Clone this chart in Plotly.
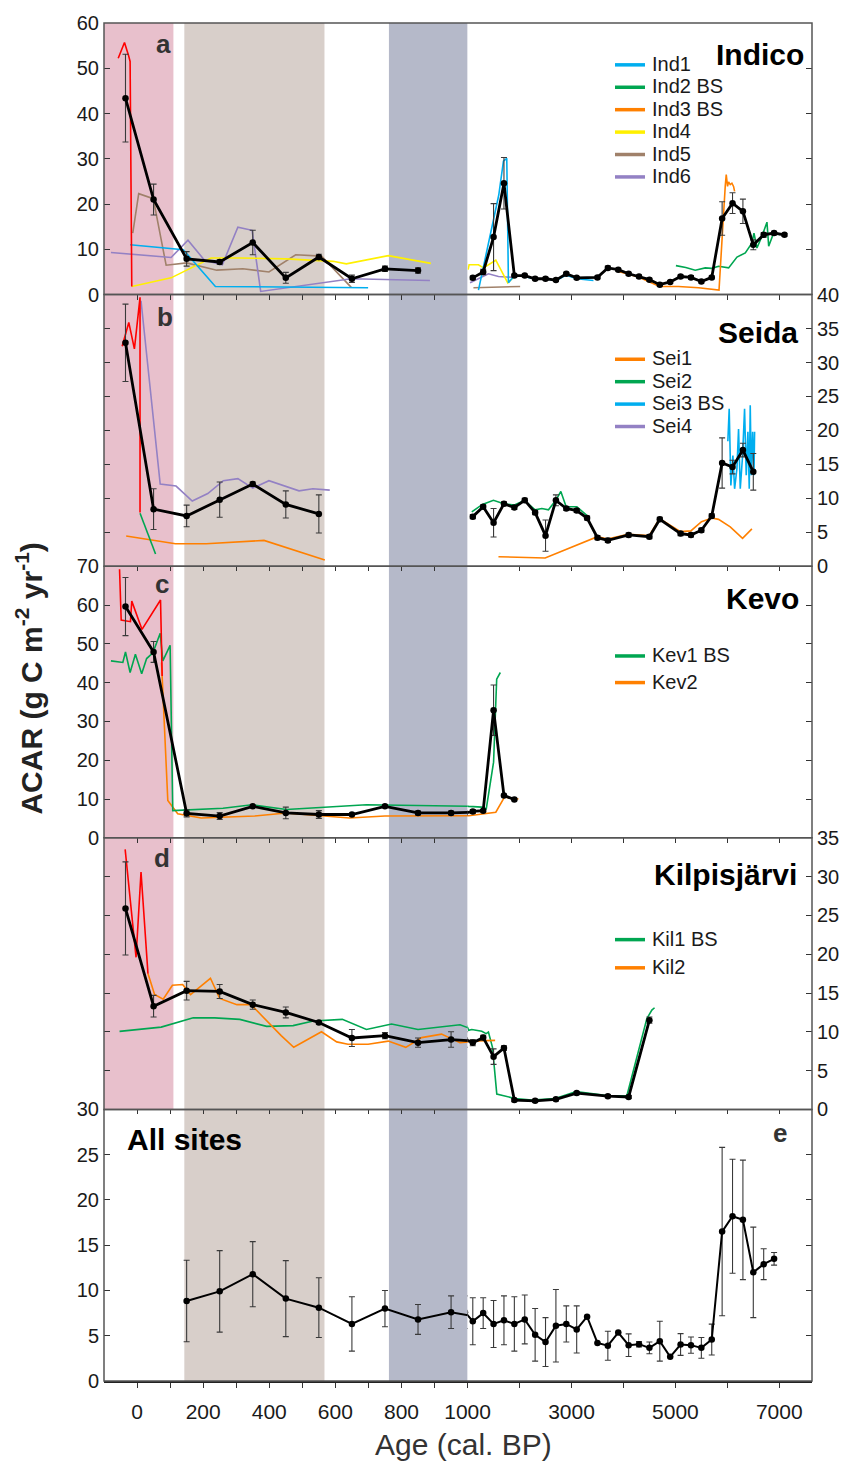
import plotly.graph_objects as go

# ---------------- data (ages in cal. BP, ACAR in g C m-2 yr-1) ----------------
# Panel a - Indico
a_mean_age_1 = [-35, 50, 150, 250, 350, 450, 550, 650, 750, 850]
a_mean_1 = [43.4, 21.0, 7.9, 7.2, 11.5, 3.7, 8.3, 3.5, 5.7, 5.3]
a_err_1 = [9.7, 3.4, 1.6, 0.5, 2.7, 1.2, 0.6, 0.8, 0.6, 0.6]
a_mean_age_2 = [1100, 1300, 1500, 1700, 1900, 2100, 2300, 2500, 2700, 2900, 3100, 3500, 3700, 3900, 4100,
                4300, 4500, 4700, 4900, 5100, 5300, 5500, 5700, 5900, 6100, 6300, 6500, 6700, 6900, 7100]
a_mean_2 = [3.7, 5.0, 12.7, 24.6, 4.2, 4.2, 3.5, 3.5, 3.2, 4.6, 3.7, 3.8, 5.9, 5.5, 4.6,
            4.0, 3.3, 2.2, 2.8, 4.0, 3.8, 2.9, 3.8, 16.8, 20.2, 18.4, 11.0, 13.2, 13.6, 13.2]
a_err_2 = [0.4, 0.6, 7.4, 5.7, 0.3, 0.3, 0.3, 0.3, 0.3, 0.3, 0.3, 0.3, 0.4, 0.3, 0.3,
           0.3, 0.3, 0.3, 0.3, 0.3, 0.4, 0.3, 0.3, 3.7, 2.3, 2.7, 1.1, 0.5, 0.4, 0.3]
a_red_age = [-57, -38, -26, -21, -16]
a_red = [52.2, 55.7, 52.9, 51.5, 1.8]
ind1_age = [-21, 140, 237, 699, None, 1209, 1600, 1690, 1754, 1786, 1902, 2100, 2300, 2500, 2700, 2900, 3100, 3423]
ind1 = [11.0, 9.9, 1.8, 1.5, None, 1.0, 22.0, 29.5, 30.1, 2.6, 4.2, 4.0, 3.4, 3.5, 3.1, 4.3, 3.5, 3.1]
ind2_age = [5010, 5200, 5382, 5575, 5700, 5832, 6025, 6186, 6346, 6475, 6513, 6570, 6667, 6763, 6796, 6892, 7021]
ind2 = [6.4, 6.0, 5.4, 5.9, 5.8, 6.25, 5.9, 8.3, 9.2, 11.4, 13.6, 10.3, 12.9, 16.0, 10.7, 13.6, 13.2]
ind3_age = [3905, 4290, 4695, 5060, 5446, 5840, 5960, 5979, 6004, 6024, 6056, 6088, 6120, 6140]
ind3 = [5.1, 3.9, 1.8, 1.8, 1.5, 1.0, 24.0, 26.5, 23.9, 24.9, 24.3, 24.6, 23.9, 22.8]
ind4_age = [-16, 103, 224, 310, 451, 593, 633, 760, 889, None, 1010, 1029, 1209, 1305, 1543, 1773, 1915]
ind4 = [1.8, 3.7, 8.1, 8.1, 7.9, 7.35, 6.8, 8.6, 6.9, None, 5.5, 6.6, 6.6, 5.9, 7.6, 2.6, 4.2]
ind5_age = [-13, 5, 49, 88, 150, 241, 320, 399, 480, 558, 648, None, 1112, 2011]
ind5 = [13.6, 22.3, 21.2, 6.5, 7.0, 5.4, 5.7, 5.0, 8.8, 8.5, 1.6, None, 1.5, 1.8]
ind6_age = [-79, 103, 154, 204, 258, 305, 348, 374, 648, 886, None, 1048, 1401, 1594, 1883]
ind6 = [9.3, 8.2, 12.0, 7.6, 6.6, 14.9, 14.2, 0.7, 3.5, 3.1, None, 2.6, 4.6, 4.0, 3.8]

# Panel b - Seida
b_mean_age_1 = [-35, 50, 150, 250, 350, 450, 550]
b_mean_1 = [32.9, 8.4, 7.4, 9.8, 12.1, 9.1, 7.7]
b_err_1 = [5.7, 3.0, 1.6, 2.6, 0.3, 2.0, 2.8]
b_mean_age_2 = [1100, 1300, 1500, 1700, 1900, 2100, 2300, 2500, 2700, 2900, 3100, 3300, 3500, 3700,
                4100, 4500, 4700, 5100, 5300, 5500, 5700, 5900, 6100, 6300, 6500]
b_mean_2 = [7.3, 8.75, 6.4, 9.2, 8.65, 9.7, 7.9, 4.5, 9.7, 8.5, 8.2, 7.1, 4.2, 3.8,
            4.6, 4.35, 6.9, 4.8, 4.6, 5.3, 7.4, 15.2, 14.6, 17.1, 13.9]
b_err_2 = [0.3, 0.3, 2.1, 0.3, 0.3, 0.3, 0.3, 2.3, 0.8, 0.3, 0.3, 0.3, 0.3, 0.3,
           0.3, 0.3, 0.3, 0.3, 0.3, 0.3, 0.3, 3.7, 1.0, 1.0, 2.7]
b_red_age = [-45, -25, -8, 9, 9]
b_red = [32.4, 35.9, 32.0, 39.6, 7.9]
sei1_age = [-33, 116, 209, 384, 568, None, 1594, 2493, 3500, 3693, 4085, 4496, 4695, 5099, 5298, 5503,
            5702, 5831, 6056, 6293, 6473]
sei1 = [4.45, 3.3, 3.3, 3.8, 0.9, None, 1.4, 1.2, 4.35, 4.0, 4.7, 4.5, 7.0, 5.1, 5.2, 6.55,
        7.1, 6.9, 5.8, 4.1, 5.5]
sei2_age = [9, 56, None, 1080, 1286, 1497, 1697, 1902, 2095, 2300, 2429, 2557, 2698, 2795, 2897, 3103, 3295]
sei2 = [7.8, 1.8, None, 8.0, 9.1, 9.7, 9.2, 9.0, 9.7, 8.3, 8.5, 8.3, 9.7, 11.0, 8.75, 8.75, 7.5]
sei3_age = [6010, 6036, 6068, 6107, 6140, 6185, 6216, 6249, 6294, 6332, 6364, 6396, 6422, 6441, 6461,
            6487, 6513, 6525]
sei3 = [18.4, 23.2, 11.9, 16.3, 11.4, 14.4, 20.2, 11.4, 16.3, 23.2, 13.4, 19.8, 11.4, 23.7, 13.4,
        19.8, 13.4, 19.8]
sei4_age = [12, 70, 118, 167, 214, 261, 305, 350, 399, 490, 532, 583]
sei4 = [39.1, 12.1, 11.8, 9.6, 10.7, 12.6, 12.9, 11.5, 12.6, 11.1, 11.4, 11.2]

# Panel c - Kevo
c_mean_age = [-35, 50, 150, 250, 350, 450, 550, 650, 750, 850, 950, 1100, 1300, 1500, 1700, 1900]
c_mean = [59.6, 47.9, 6.3, 5.6, 8.1, 6.4, 6.0, 6.0, 8.1, 6.4, 6.4, 6.8, 7.0, 32.9, 10.9, 9.85]
c_err = [7.5, 2.7, 0.9, 0.9, 0.3, 1.5, 1.0, 0.3, 0.3, 0.5, 0.5, 0.5, 0.3, 6.5, 0.3, 0.3]
c_red_age = [-53, -48, -20, -16, 15, 37, 71, 76]
c_red = [69.2, 56.1, 55.7, 61.0, 53.7, 56.7, 61.3, 41.7]
kev1_age = [-79, -43, -35, -21, -5, 14, 29, 48, 70, 78, 100, 108, 260, 348, 452, 694, 1022,
            1273, 1360, 1500, 1560, 1630]
kev1 = [45.6, 45.2, 47.9, 42.6, 47.3, 42.3, 46.2, 47.7, 52.7, 45.6, 49.6, 7.0, 7.6, 8.5, 7.3, 8.5, 8.1,
        7.9, 7.5, 19.5, 40.9, 42.6]
kev2_age = [74, 93, 123, 194, 356, 451, 643, 750, 1022, 1543, 1710, 1979]
kev2 = [45.2, 9.6, 6.2, 5.1, 5.6, 6.4, 5.1, 5.6, 5.7, 6.6, 10.5, 10.0]

# Panel d - Kilpisjärvi
d_mean_age = [-35, 50, 150, 250, 350, 450, 550, 650, 750, 850, 950, 1100, 1300, 1500, 1700, 1900,
              2300, 2700, 3100, 3700, 4100, 4500]
d_mean = [25.9, 13.3, 15.3, 15.2, 13.5, 12.5, 11.2, 9.2, 9.5, 8.6, 9.0, 8.6, 9.25, 6.8, 7.9, 1.2,
          1.1, 1.3, 2.1, 1.7, 1.6, 11.5]
d_err = [6.0, 1.4, 1.2, 0.9, 0.6, 0.7, 0.2, 1.1, 0.4, 0.6, 1.0, 0.4, 0.3, 1.0, 0.3, 0.2,
         0.2, 0.2, 0.2, 0.2, 0.2, 0.4]
d_red_age = [-36, -3, 12, 33]
d_red = [33.5, 19.6, 30.6, 17.5]
kil1_age = [-53, 73, 170, 235, 311, 392, 472, 533, 621, 694, 770, 850, 977, 1022, 1080, 1273, 1357,
            1401, 1479, 1562, 1915, 2236, 2686, 3090, 3681, 4066, 4451, 4547, 4599]
kil1 = [10.06, 10.6, 11.8, 11.8, 11.6, 10.7, 10.8, 11.4, 11.6, 10.3, 11.0, 10.3, 10.9, 10.2, 10.3, 10.06, 9.76,
        9.97, 8.0, 1.97, 1.4, 1.2, 1.4, 2.3, 1.8, 1.75, 11.7, 12.8, 13.1]
kil2_age = [33, 53, 79, 107, 138, 162, 222, 250, 302, 345, 436, 474, 558, 604, 638, 699, 760, 813, 861,
            921, 977, 1022, 1530]
kil2 = [17.5, 14.8, 14.2, 16.0, 16.1, 14.8, 16.9, 14.3, 13.5, 13.5, 9.5, 8.0, 10.0, 8.7, 8.4, 8.4, 8.8, 8.0,
        9.25, 9.7, 8.6, 8.8, 8.9]

# Panel e - All sites
e_age = [150, 250, 350, 450, 550, 650, 750, 850, 950, 1100, 1300, 1500, 1700, 1900, 2100, 2300, 2500,
         2700, 2900, 3100, 3300, 3500, 3700, 3900, 4100, 4300, 4500, 4700, 4900, 5100, 5300, 5500, 5700,
         5900, 6100, 6300, 6500, 6700, 6900]
e_mean = [8.83, 9.9, 11.8, 9.1, 8.1, 6.3, 8.0, 6.8, 7.6, 6.6, 7.5, 6.3, 6.7, 6.3, 6.8, 5.1, 4.3,
          6.1, 6.3, 5.7, 7.1, 4.2, 3.9, 5.35, 3.96, 4.07, 3.66, 4.4, 2.67, 4.03, 3.96, 3.66, 4.58,
          16.5, 18.2, 17.8, 12.0, 12.9, 13.5]
e_err = [4.5, 4.5, 3.6, 4.2, 3.3, 3.0, 2.0, 1.65, 1.8, 2.6, 1.7, 2.6, 2.7, 3.0, 2.7, 2.9, 2.7,
         4.0, 2.0, 2.6, 0.0, 0.0, 1.6, 0.0, 1.25, 0.3, 0.65, 2.2, 0.0, 1.2, 0.9, 1.15, 1.7,
         9.3, 6.3, 6.6, 5.0, 1.7, 0.7]

# axis / label definitions
site_names = ["Indico", "Seida", "Kevo", "Kilpisjärvi", "All sites"]
panel_letters = ["a", "b", "c", "d", "e"]
y_max = [60, 40, 70, 35, 30]
y_step = [10, 5, 10, 5, 5]
y_side = ["left", "right", "left", "right", "left"]
left_major = [0, 200, 400, 600, 800, 1000]
left_minor = [100, 300, 500, 700, 900]
right_major = [3000, 5000, 7000]
right_minor = [2000, 4000, 6000]
legend_a = ["Ind1", "Ind2 BS", "Ind3 BS", "Ind4", "Ind5", "Ind6"]
legend_b = ["Sei1", "Sei2", "Sei3 BS", "Sei4"]
legend_c = ["Kev1 BS", "Kev2"]
legend_d = ["Kil1 BS", "Kil2"]

# ---------------- styling ----------------
FONT = "Liberation Sans, Arial, sans-serif"
W, H = 852, 1462
ML, MR, MT, MB = 104, 40, 18, 81
PW, PH = W - ML - MR, H - MT - MB
BREAK_PX = 467.6
B = round((BREAK_PX - ML) / PW, 6)
LEFT_RANGE = [-100, 1000]
RIGHT_RANGE = [1000, 7630]

RED = "#ff0000"
CYAN = "#00aeef"
GREEN = "#00a651"
ORANGE = "#ff8000"
YELLOW = "#fff000"
BROWN = "#a0816a"
PURPLE = "#9381c4"
PINK = "#e8c0cc"
TAN = "#d8cfca"
GREYBLUE = "#b5b9c9"
FRAME = "#555555"


def px_x(px):
    return (px - ML) / PW


def px_y(py):
    return (MT + PH - py) / PH


def xname(k):
    return "x" if k == 1 else f"x{k}"


def yname(k):
    return "y" if k == 1 else f"y{k}"


def lname(prefix, k):
    return prefix if k == 1 else f"{prefix}{k}"


def panel_dom(p):
    top = round(1 - 0.2 * p, 6)
    bot = round(max(0.0, top - 0.2), 6)
    return [bot, top]


fig = go.Figure()


def add_series(panel, ages, vals, color, width, err=None, markers=False, msize=6.5):
    for side in (0, 1):
        xa = xname(2 * panel + 1 + side)
        ya = yname(panel + 1)
        kw = dict(x=ages, y=vals, xaxis=xa, yaxis=ya, showlegend=False, hoverinfo="skip",
                  mode="lines+markers" if markers else "lines",
                  line=dict(color=color, width=width), connectgaps=False)
        if markers:
            kw["marker"] = dict(color=color, size=msize)
        if err is not None:
            kw["error_y"] = dict(type="data", array=err, symmetric=True, color="#3a3a3a",
                                 thickness=1.1, width=3)
        fig.add_trace(go.Scatter(**kw))


# Panel a
add_series(0, ind5_age, ind5, BROWN, 1.6)
add_series(0, ind6_age, ind6, PURPLE, 1.6)
add_series(0, ind4_age, ind4, YELLOW, 1.6)
add_series(0, ind1_age, ind1, CYAN, 1.6)
add_series(0, ind2_age, ind2, GREEN, 1.6)
add_series(0, ind3_age, ind3, ORANGE, 1.6)
add_series(0, a_red_age, a_red, RED, 1.6)
add_series(0, a_mean_age_1, a_mean_1, "black", 2.8, a_err_1, True)
add_series(0, a_mean_age_2, a_mean_2, "black", 2.8, a_err_2, True)
# Panel b
add_series(1, sei1_age, sei1, ORANGE, 1.6)
add_series(1, sei4_age, sei4, PURPLE, 1.6)
add_series(1, sei2_age, sei2, GREEN, 1.6)
add_series(1, sei3_age, sei3, CYAN, 1.6)
add_series(1, b_red_age, b_red, RED, 1.6)
add_series(1, b_mean_age_1, b_mean_1, "black", 2.8, b_err_1, True)
add_series(1, b_mean_age_2, b_mean_2, "black", 2.8, b_err_2, True)
# Panel c
add_series(2, kev2_age, kev2, ORANGE, 1.6)
add_series(2, kev1_age, kev1, GREEN, 1.6)
add_series(2, c_red_age, c_red, RED, 1.6)
add_series(2, c_mean_age, c_mean, "black", 2.8, c_err, True)
# Panel d
add_series(3, kil1_age, kil1, GREEN, 1.6)
add_series(3, kil2_age, kil2, ORANGE, 1.6)
add_series(3, d_red_age, d_red, RED, 1.6)
add_series(3, d_mean_age, d_mean, "black", 2.8, d_err, True)
# Panel e
add_series(4, e_age, e_mean, "black", 2.0, e_err, True, 6.5)

# empty traces to instantiate mirror axes
for p in range(5):
    other_x = 2 * p + 2 if y_side[p] == "left" else 2 * p + 1
    fig.add_trace(go.Scatter(x=[None], y=[None], xaxis=xname(other_x), yaxis=yname(6 + p),
                             showlegend=False, hoverinfo="skip"))
fig.add_trace(go.Scatter(x=[None], y=[None], xaxis="x11", yaxis="y5", showlegend=False, hoverinfo="skip"))
fig.add_trace(go.Scatter(x=[None], y=[None], xaxis="x12", yaxis="y5", showlegend=False, hoverinfo="skip"))

layout = dict(
    width=W, height=H, margin=dict(l=ML, r=MR, t=MT, b=MB),
    paper_bgcolor="white", plot_bgcolor="rgba(0,0,0,0)",
    font=dict(family=FONT, color="#1a1a1a", size=20),
    showlegend=False,
)

tickfont_y = dict(family=FONT, size=20, color="#1a1a1a")
tickfont_x = dict(family=FONT, size=21, color="#1a1a1a")


def minor_spec(vals, direction):
    return dict(tickmode="array", tickvals=vals, ticks=direction, ticklen=5, tickwidth=1.2,
                tickcolor="#333", showgrid=False)


for p in range(5):
    dom = panel_dom(p)
    yk = p + 1
    L, R = 2 * p + 1, 2 * p + 2
    common_x = dict(showgrid=False, zeroline=False, showline=False, fixedrange=True,
                    ticklen=5, tickwidth=1.2, tickcolor="#333", anchor=yname(yk), tickmode="array")
    if p == 0:
        xl = dict(common_x, domain=[0, B], range=LEFT_RANGE, ticks="", showticklabels=False)
        xr = dict(common_x, domain=[B, 1], range=RIGHT_RANGE, ticks="", showticklabels=False)
    elif p < 4:
        xl = dict(common_x, domain=[0, B], range=LEFT_RANGE, side="top", ticks="inside",
                  tickvals=left_major, showticklabels=False, minor=minor_spec(left_minor, "inside"))
        xr = dict(common_x, domain=[B, 1], range=RIGHT_RANGE, side="top", ticks="inside",
                  tickvals=right_major, showticklabels=False, minor=minor_spec(right_minor, "inside"))
    else:
        xl = dict(common_x, domain=[0, B], range=LEFT_RANGE, side="bottom", ticks="outside",
                  tickvals=left_major, tickfont=tickfont_x, minor=minor_spec(left_minor, "outside"),
                  showline=True, linecolor="#222", linewidth=1.5, ticklabelstandoff=6)
        xr = dict(common_x, domain=[B, 1], range=RIGHT_RANGE, side="bottom", ticks="outside",
                  tickvals=right_major, tickfont=tickfont_x, minor=minor_spec(right_minor, "outside"),
                  showline=True, linecolor="#222", linewidth=1.5, ticklabelstandoff=6)
        layout["xaxis11"] = dict(common_x, domain=[0, B], range=LEFT_RANGE, side="top", ticks="inside",
                                 tickvals=left_major, showticklabels=False, overlaying="x9",
                                 minor=minor_spec(left_minor, "inside"))
        layout["xaxis12"] = dict(common_x, domain=[B, 1], range=RIGHT_RANGE, side="top", ticks="inside",
                                 tickvals=right_major, showticklabels=False, overlaying="x10",
                                 minor=minor_spec(right_minor, "inside"))
    layout[lname("xaxis", L)] = xl
    layout[lname("xaxis", R)] = xr

    yvals = list(range(0, y_max[p] + 1, y_step[p]))
    common_y = dict(range=[0, y_max[p]], tickmode="array", tickvals=yvals, showgrid=False,
                    zeroline=False, showline=False, fixedrange=True, ticks="inside", ticklen=6,
                    tickwidth=1.2, tickcolor="#333")
    if y_side[p] == "left":
        layout[lname("yaxis", yk)] = dict(common_y, domain=dom, anchor=xname(L), side="left",
                                          tickfont=tickfont_y, ticklabelstandoff=4)
        layout[lname("yaxis", 6 + p)] = dict(common_y, anchor=xname(R), side="right",
                                             overlaying=yname(yk), showticklabels=False)
    else:
        layout[lname("yaxis", yk)] = dict(common_y, domain=dom, anchor=xname(R), side="right",
                                          tickfont=tickfont_y, ticklabelstandoff=4)
        layout[lname("yaxis", 6 + p)] = dict(common_y, anchor=xname(L), side="left",
                                             overlaying=yname(yk), showticklabels=False)

shapes = []
annotations = []
for p in range(5):
    yk = p + 1
    L = 2 * p + 1
    bands = [(LEFT_RANGE[0], 110, PINK), (143, 567, TAN), (762, 1000, GREYBLUE)]
    for x0, x1, col in bands:
        if p == 4 and col == PINK:
            continue
        shapes.append(dict(type="rect", xref=xname(L), yref=f"{yname(yk)} domain",
                           x0=x0, x1=x1, y0=0, y1=1, fillcolor=col, line=dict(width=0),
                           layer="below"))
    dom = panel_dom(p)
    shapes.append(dict(type="rect", xref="paper", yref="paper", x0=0, x1=1, y0=dom[0], y1=dom[1],
                       line=dict(color=FRAME, width=1.5), fillcolor="rgba(0,0,0,0)", layer="above"))

# panel letters and site names
letter_pos = [(163, 39), (165, 313), (162, 581), (162, 856), (780, 1132)]
for p, (lx, ly) in enumerate(letter_pos):
    annotations.append(dict(xref="paper", yref="paper", x=px_x(lx), y=px_y(ly), text=f"<b>{panel_letters[p]}</b>",
                            showarrow=False, xanchor="center", yanchor="middle",
                            font=dict(family=FONT, size=26, color="#333")))
site_pos = [(806, 50, "right"), (800, 329, "right"), (801, 596, "right"), (799, 873, "right"),
            (125, 1139, "left")]
for p, (sx, sy, anc) in enumerate(site_pos):
    annotations.append(dict(xref="paper", yref="paper", x=px_x(sx), y=px_y(sy), text=f"<b>{site_names[p]}</b>",
                            showarrow=False, xanchor=anc, yanchor="middle",
                            font=dict(family=FONT, size=30, color="black")))

# legends
legend_sets = [
    (legend_a, [CYAN, GREEN, ORANGE, YELLOW, BROWN, PURPLE], [60, 82.5, 105, 127.5, 150, 172.5]),
    (legend_b, [ORANGE, GREEN, CYAN, PURPLE], [355.5, 378, 400.5, 423]),
    (legend_c, [GREEN, ORANGE], [653.3, 680]),
    (legend_d, [GREEN, ORANGE], [938, 966.3]),
]
for names, cols, rows in legend_sets:
    for nm, col, ry in zip(names, cols, rows):
        shapes.append(dict(type="line", xref="paper", yref="paper", x0=px_x(615), x1=px_x(645),
                           y0=px_y(ry), y1=px_y(ry), line=dict(color=col, width=3.5), layer="above"))
        annotations.append(dict(xref="paper", yref="paper", x=px_x(651), y=px_y(ry - 1), text=nm,
                                showarrow=False, xanchor="left", yanchor="middle", borderpad=0,
                                font=dict(family=FONT, size=20, color="#1a1a1a")))

# axis titles
annotations.append(dict(xref="paper", yref="paper", x=px_x(29), y=px_y(676),
                        text="<b>ACAR (g C m<sup>-2</sup> yr<sup>-1</sup>)</b>", textangle=-90,
                        showarrow=False, xanchor="center", yanchor="middle",
                        font=dict(family=FONT, size=30, color="#222")))
annotations.append(dict(xref="paper", yref="paper", x=px_x(463), y=px_y(1445),
                        text="Age (cal. BP)", showarrow=False, xanchor="center", yanchor="middle",
                        font=dict(family=FONT, size=30, color="#333")))

layout["shapes"] = shapes
layout["annotations"] = annotations
fig.update_layout(**layout)
fig.write_html("out.html", config={"displayModeBar": False},
               post_script="document.body.style.margin='0px';")
